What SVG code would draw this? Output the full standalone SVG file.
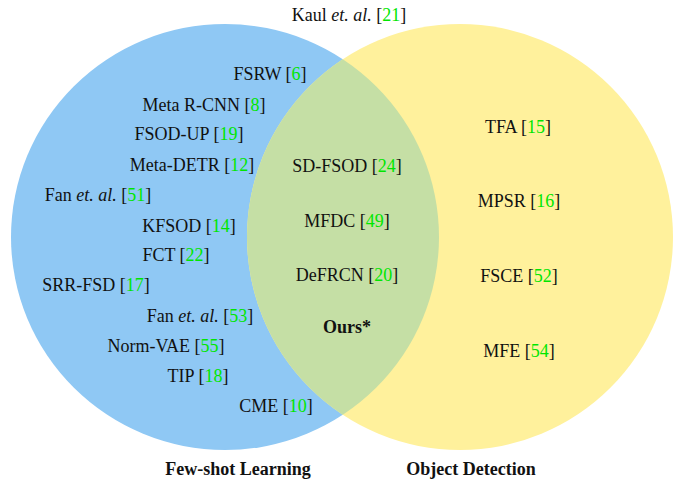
<svg xmlns="http://www.w3.org/2000/svg" width="674" height="483" viewBox="0 0 674 483">
<style>
text{font-family:"Liberation Serif","Times New Roman",serif;font-size:18px;fill:#111;text-anchor:middle}
.b{font-weight:bold}
.c{fill:#00e600}
.i{font-style:italic}
</style>
<defs>
<clipPath id="clipL"><ellipse cx="225" cy="237" rx="214" ry="213"/></clipPath>
</defs>
<rect width="674" height="483" fill="#fff"/>
<g id="set-fsl"><ellipse cx="225" cy="237" rx="214" ry="213" fill="#8fc8f4"/></g>
<g id="set-od"><ellipse cx="460" cy="237" rx="213" ry="213" fill="#fff19c"/></g>
<g id="overlap"><ellipse cx="460" cy="237" rx="213" ry="213" fill="#c5dfa5" clip-path="url(#clipL)"/></g>
<g id="kaul"><text x="349" y="21">Kaul <tspan class="i">et. al.</tspan> [<tspan class="c">21</tspan>]</text></g>
<g id="fsrw"><text x="270" y="80">FSRW [<tspan class="c">6</tspan>]</text></g>
<g id="metarcnn"><text x="204" y="111">Meta R-CNN [<tspan class="c">8</tspan>]</text></g>
<g id="fsodup"><text x="189" y="140">FSOD-UP [<tspan class="c">19</tspan>]</text></g>
<g id="metadetr"><text x="192" y="171">Meta-DETR [<tspan class="c">12</tspan>]</text></g>
<g id="fan51"><text x="98" y="201">Fan <tspan class="i">et. al.</tspan> [<tspan class="c">51</tspan>]</text></g>
<g id="kfsod"><text x="189" y="232">KFSOD [<tspan class="c">14</tspan>]</text></g>
<g id="fct"><text x="176" y="261">FCT [<tspan class="c">22</tspan>]</text></g>
<g id="srrfsd"><text x="96" y="291">SRR-FSD [<tspan class="c">17</tspan>]</text></g>
<g id="fan53"><text x="200" y="322">Fan <tspan class="i">et. al.</tspan> [<tspan class="c">53</tspan>]</text></g>
<g id="normvae"><text x="166" y="352">Norm-VAE [<tspan class="c">55</tspan>]</text></g>
<g id="tip"><text x="198" y="382">TIP [<tspan class="c">18</tspan>]</text></g>
<g id="cme"><text x="276" y="412">CME [<tspan class="c">10</tspan>]</text></g>
<g id="sdfsod"><text x="347" y="172">SD-FSOD [<tspan class="c">24</tspan>]</text></g>
<g id="mfdc"><text x="347" y="227">MFDC [<tspan class="c">49</tspan>]</text></g>
<g id="defrcn"><text x="347" y="281">DeFRCN [<tspan class="c">20</tspan>]</text></g>
<g id="ours"><text class="b" x="347" y="333">Ours*</text></g>
<g id="tfa"><text x="518" y="133">TFA [<tspan class="c">15</tspan>]</text></g>
<g id="mpsr"><text x="519" y="207">MPSR [<tspan class="c">16</tspan>]</text></g>
<g id="fsce"><text x="519" y="282">FSCE [<tspan class="c">52</tspan>]</text></g>
<g id="mfe"><text x="519" y="357">MFE [<tspan class="c">54</tspan>]</text></g>
<g id="label-fsl"><text class="b" x="238" y="475">Few-shot Learning</text></g>
<g id="label-od"><text class="b" x="471" y="475">Object Detection</text></g>
</svg>
